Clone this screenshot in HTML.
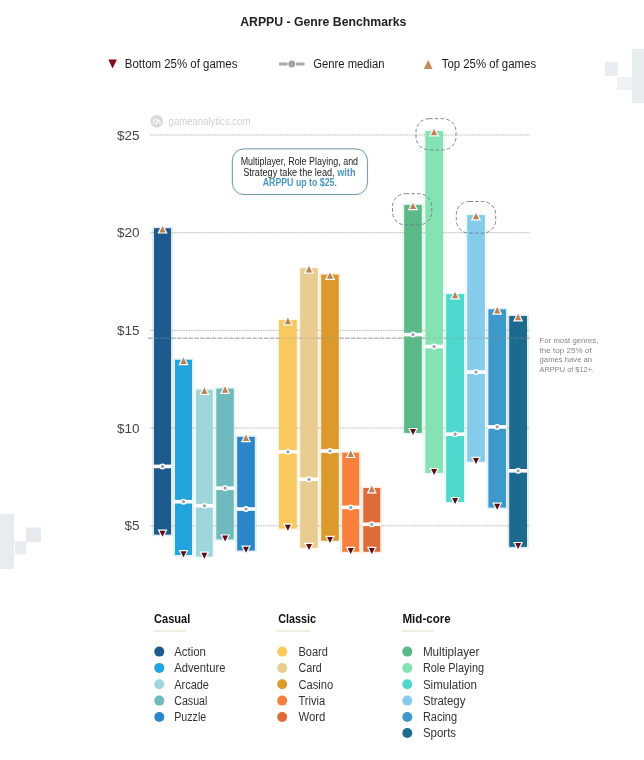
<!DOCTYPE html>
<html lang="en"><head><meta charset="utf-8"><title>ARPPU - Genre Benchmarks</title>
<style>
html,body{margin:0;padding:0;background:#fff;}
body{width:644px;height:760px;overflow:hidden;font-family:"Liberation Sans",sans-serif;}
svg{display:block;}
text{font-family:"Liberation Sans",sans-serif;}
</style></head><body>
<svg width="644" height="760" viewBox="0 0 644 760">
<rect width="644" height="760" fill="#ffffff"/>

<g fill="#e7ecee">
<rect x="632" y="49" width="12" height="54"/>
<rect x="617" y="77" width="15" height="13" fill="#eef2f3"/>
<rect x="605" y="62" width="13" height="14" fill="#e9edf0"/>
<rect x="0" y="514" width="14" height="55"/>
<rect x="15" y="541" width="11.5" height="13.5" fill="#e9edf0"/>
<rect x="26" y="527.5" width="15" height="14.5" fill="#e6eaee"/>
</g>
<text x="240.2" y="26.1" font-size="13.5" font-weight="bold" fill="#222" textLength="166.2" lengthAdjust="spacingAndGlyphs">ARPPU - Genre Benchmarks</text>
<polygon points="108.3,59.6 116.9,59.6 112.6,68.6" fill="#7d0d17"/>
<text x="124.8" y="68.1" font-size="12" fill="#1c1c1c" textLength="112.6" lengthAdjust="spacingAndGlyphs">Bottom 25% of games</text>
<g><rect x="279" y="62.5" width="8.6" height="3" rx="0.8" fill="#a9a9a9"/><rect x="296" y="62.5" width="8.6" height="3" rx="0.8" fill="#a9a9a9"/><circle cx="291.8" cy="64" r="3.5" fill="#a4a4a4"/></g>
<text x="313.2" y="68.1" font-size="12" fill="#1c1c1c" textLength="71.4" lengthAdjust="spacingAndGlyphs">Genre median</text>
<polygon points="423.8,69 432.6,69 428.2,60" fill="#c98a5c"/>
<text x="441.7" y="68.1" font-size="12" fill="#1c1c1c" textLength="94.4" lengthAdjust="spacingAndGlyphs">Top 25% of games</text>
<circle cx="156.7" cy="121.3" r="6.3" fill="#dadada"/>
<path d="M156.6 123.4 a2.1 2.1 0 1 1 0.1 -3.6 M156.4 123.6 l1.9 -4 l1.9 4" fill="none" stroke="#fff" stroke-width="1.1" stroke-linecap="round" stroke-linejoin="round"/>
<text x="168.6" y="124.7" font-size="10.5" fill="#d0d0d0" textLength="81.8" lengthAdjust="spacingAndGlyphs">gameanalytics.com</text>
<line x1="150" x2="530" y1="135.0" y2="135.0" stroke="#a2a2a2" stroke-width="0.75" stroke-dasharray="1.5 0.9"/>
<text x="139.6" y="139.5" font-size="13.5" fill="#444" text-anchor="end">$25</text>
<line x1="150" x2="530" y1="232.7" y2="232.7" stroke="#a2a2a2" stroke-width="0.75" stroke-dasharray="1.5 0.9"/>
<text x="139.6" y="237.2" font-size="13.5" fill="#444" text-anchor="end">$20</text>
<line x1="150" x2="530" y1="330.4" y2="330.4" stroke="#a2a2a2" stroke-width="0.75" stroke-dasharray="1.5 0.9"/>
<text x="139.6" y="334.9" font-size="13.5" fill="#444" text-anchor="end">$15</text>
<line x1="150" x2="530" y1="428.1" y2="428.1" stroke="#a2a2a2" stroke-width="0.75" stroke-dasharray="1.5 0.9"/>
<text x="139.6" y="432.6" font-size="13.5" fill="#444" text-anchor="end">$10</text>
<line x1="150" x2="530" y1="525.8" y2="525.8" stroke="#a2a2a2" stroke-width="0.75" stroke-dasharray="1.5 0.9"/>
<text x="139.6" y="530.3" font-size="13.5" fill="#444" text-anchor="end">$5</text>
<line x1="148" x2="531" y1="338.2" y2="338.2" stroke="#9a9a9a" stroke-width="0.75" stroke-dasharray="4.5 1.3"/>
<rect x="152.0" y="226.7" width="21.0" height="309.4" fill="#1d5b8f" opacity="0.13"/>
<rect x="173.0" y="358.3" width="21.0" height="198.2" fill="#22a5dc" opacity="0.13"/>
<rect x="194.0" y="388.2" width="20.8" height="169.9" fill="#9fd6dc" opacity="0.13"/>
<rect x="214.3" y="387.1" width="21.5" height="153.8" fill="#6fbabd" opacity="0.13"/>
<rect x="235.2" y="435.4" width="21.6" height="116.6" fill="#2a86c9" opacity="0.13"/>
<rect x="277.0" y="318.5" width="21.8" height="211.6" fill="#f8c95f" opacity="0.13"/>
<rect x="298.2" y="266.7" width="21.6" height="282.6" fill="#e9cd90" opacity="0.13"/>
<rect x="319.2" y="273.1" width="21.6" height="269.1" fill="#db9a2c" opacity="0.13"/>
<rect x="340.2" y="451.2" width="21.0" height="102.1" fill="#f7803c" opacity="0.13"/>
<rect x="361.3" y="486.5" width="20.9" height="66.8" fill="#de6b3a" opacity="0.13"/>
<rect x="402.2" y="203.4" width="21.6" height="231.0" fill="#5bb887" opacity="0.13"/>
<rect x="423.3" y="129.6" width="21.7" height="344.8" fill="#85e3b3" opacity="0.13"/>
<rect x="444.2" y="292.6" width="21.8" height="210.8" fill="#4dd7cd" opacity="0.13"/>
<rect x="465.2" y="213.6" width="21.7" height="249.6" fill="#85cbea" opacity="0.13"/>
<rect x="486.4" y="307.8" width="21.6" height="201.3" fill="#3f98ca" opacity="0.13"/>
<rect x="507.2" y="314.5" width="21.8" height="233.9" fill="#1c6a8d" opacity="0.13"/>
<rect x="154.0" y="228.2" width="17.0" height="306.4" fill="#1d5b8f"/>
<rect x="175.0" y="359.8" width="17.0" height="195.2" fill="#22a5dc"/>
<rect x="196.0" y="389.7" width="16.8" height="166.9" fill="#9fd6dc"/>
<rect x="216.3" y="388.6" width="17.5" height="150.8" fill="#6fbabd"/>
<rect x="237.2" y="436.9" width="17.6" height="113.6" fill="#2a86c9"/>
<rect x="279.0" y="320.0" width="17.8" height="208.6" fill="#f8c95f"/>
<rect x="300.2" y="268.2" width="17.6" height="279.6" fill="#e9cd90"/>
<rect x="321.2" y="274.6" width="17.6" height="266.1" fill="#db9a2c"/>
<rect x="342.2" y="452.7" width="17.0" height="99.1" fill="#f7803c"/>
<rect x="363.3" y="488.0" width="16.9" height="63.8" fill="#de6b3a"/>
<rect x="404.2" y="204.9" width="17.6" height="228.0" fill="#5bb887"/>
<rect x="425.3" y="131.1" width="17.7" height="341.8" fill="#85e3b3"/>
<rect x="446.2" y="294.1" width="17.8" height="207.8" fill="#4dd7cd"/>
<rect x="467.2" y="215.1" width="17.7" height="246.6" fill="#85cbea"/>
<rect x="488.4" y="309.3" width="17.6" height="198.3" fill="#3f98ca"/>
<rect x="509.2" y="316.0" width="17.8" height="230.9" fill="#1c6a8d"/>
<line x1="148" x2="531" y1="338.2" y2="338.2" stroke="#9a9a9a" stroke-opacity="0.6" stroke-width="0.75" stroke-dasharray="4.5 1.3"/>
<rect x="153.2" y="464.6" width="18.6" height="3.6" fill="#fff"/>
<circle cx="162.5" cy="466.4" r="2.3" fill="#8fa3ad" stroke="#fff" stroke-width="1.4"/>
<polygon points="159.3,232.4 165.7,232.4 162.5,226.0" fill="#c0804f" stroke="#fff" stroke-width="2.4" stroke-linejoin="miter" paint-order="stroke"/>
<polygon points="159.5,530.8 165.5,530.8 162.5,536.8" fill="#5e0a12" stroke="#fff" stroke-width="2.4" stroke-linejoin="miter" paint-order="stroke"/>
<rect x="174.2" y="499.9" width="18.6" height="3.6" fill="#fff"/>
<circle cx="183.5" cy="501.7" r="2.3" fill="#8fa3ad" stroke="#fff" stroke-width="1.4"/>
<polygon points="180.3,364.0 186.7,364.0 183.5,357.6" fill="#c0804f" stroke="#fff" stroke-width="2.4" stroke-linejoin="miter" paint-order="stroke"/>
<polygon points="180.5,551.2 186.5,551.2 183.5,557.2" fill="#5e0a12" stroke="#fff" stroke-width="2.4" stroke-linejoin="miter" paint-order="stroke"/>
<rect x="195.2" y="504.0" width="18.4" height="3.6" fill="#fff"/>
<circle cx="204.4" cy="505.8" r="2.3" fill="#8fa3ad" stroke="#fff" stroke-width="1.4"/>
<polygon points="201.2,393.9 207.6,393.9 204.4,387.5" fill="#c0804f" stroke="#fff" stroke-width="2.4" stroke-linejoin="miter" paint-order="stroke"/>
<polygon points="201.4,552.8 207.4,552.8 204.4,558.8" fill="#5e0a12" stroke="#fff" stroke-width="2.4" stroke-linejoin="miter" paint-order="stroke"/>
<rect x="215.5" y="486.4" width="19.1" height="3.6" fill="#fff"/>
<circle cx="225.1" cy="488.2" r="2.3" fill="#8fa3ad" stroke="#fff" stroke-width="1.4"/>
<polygon points="221.9,392.8 228.2,392.8 225.1,386.4" fill="#c0804f" stroke="#fff" stroke-width="2.4" stroke-linejoin="miter" paint-order="stroke"/>
<polygon points="222.1,535.6 228.1,535.6 225.1,541.6" fill="#5e0a12" stroke="#fff" stroke-width="2.4" stroke-linejoin="miter" paint-order="stroke"/>
<rect x="236.4" y="507.2" width="19.2" height="3.6" fill="#fff"/>
<circle cx="246.0" cy="509.0" r="2.3" fill="#8fa3ad" stroke="#fff" stroke-width="1.4"/>
<polygon points="242.8,441.1 249.2,441.1 246.0,434.7" fill="#c0804f" stroke="#fff" stroke-width="2.4" stroke-linejoin="miter" paint-order="stroke"/>
<polygon points="243.0,546.7 249.0,546.7 246.0,552.7" fill="#5e0a12" stroke="#fff" stroke-width="2.4" stroke-linejoin="miter" paint-order="stroke"/>
<rect x="278.2" y="450.0" width="19.4" height="3.6" fill="#fff"/>
<circle cx="287.9" cy="451.8" r="2.3" fill="#8fa3ad" stroke="#fff" stroke-width="1.4"/>
<polygon points="284.7,324.2 291.1,324.2 287.9,317.8" fill="#c0804f" stroke="#fff" stroke-width="2.4" stroke-linejoin="miter" paint-order="stroke"/>
<polygon points="284.9,524.8 290.9,524.8 287.9,530.8" fill="#5e0a12" stroke="#fff" stroke-width="2.4" stroke-linejoin="miter" paint-order="stroke"/>
<rect x="299.4" y="477.5" width="19.2" height="3.6" fill="#fff"/>
<circle cx="309.0" cy="479.3" r="2.3" fill="#8fa3ad" stroke="#fff" stroke-width="1.4"/>
<polygon points="305.8,272.4 312.2,272.4 309.0,266.0" fill="#c0804f" stroke="#fff" stroke-width="2.4" stroke-linejoin="miter" paint-order="stroke"/>
<polygon points="306.0,544.0 312.0,544.0 309.0,550.0" fill="#5e0a12" stroke="#fff" stroke-width="2.4" stroke-linejoin="miter" paint-order="stroke"/>
<rect x="320.4" y="449.2" width="19.2" height="3.6" fill="#fff"/>
<circle cx="330.0" cy="451.0" r="2.3" fill="#8fa3ad" stroke="#fff" stroke-width="1.4"/>
<polygon points="326.8,278.8 333.2,278.8 330.0,272.4" fill="#c0804f" stroke="#fff" stroke-width="2.4" stroke-linejoin="miter" paint-order="stroke"/>
<polygon points="327.0,536.9 333.0,536.9 330.0,542.9" fill="#5e0a12" stroke="#fff" stroke-width="2.4" stroke-linejoin="miter" paint-order="stroke"/>
<rect x="341.4" y="505.6" width="18.6" height="3.6" fill="#fff"/>
<circle cx="350.7" cy="507.4" r="2.3" fill="#8fa3ad" stroke="#fff" stroke-width="1.4"/>
<polygon points="347.5,456.9 353.9,456.9 350.7,450.5" fill="#c0804f" stroke="#fff" stroke-width="2.4" stroke-linejoin="miter" paint-order="stroke"/>
<polygon points="347.7,548.0 353.7,548.0 350.7,554.0" fill="#5e0a12" stroke="#fff" stroke-width="2.4" stroke-linejoin="miter" paint-order="stroke"/>
<rect x="362.5" y="522.5" width="18.5" height="3.6" fill="#fff"/>
<circle cx="371.8" cy="524.3" r="2.3" fill="#8fa3ad" stroke="#fff" stroke-width="1.4"/>
<polygon points="368.6,492.2 374.9,492.2 371.8,485.8" fill="#c0804f" stroke="#fff" stroke-width="2.4" stroke-linejoin="miter" paint-order="stroke"/>
<polygon points="368.8,548.0 374.8,548.0 371.8,554.0" fill="#5e0a12" stroke="#fff" stroke-width="2.4" stroke-linejoin="miter" paint-order="stroke"/>
<rect x="403.4" y="332.8" width="19.2" height="3.6" fill="#fff"/>
<circle cx="413.0" cy="334.6" r="2.3" fill="#8fa3ad" stroke="#fff" stroke-width="1.4"/>
<polygon points="409.8,209.1 416.2,209.1 413.0,202.7" fill="#c0804f" stroke="#fff" stroke-width="2.4" stroke-linejoin="miter" paint-order="stroke"/>
<polygon points="410.0,429.1 416.0,429.1 413.0,435.1" fill="#5e0a12" stroke="#fff" stroke-width="2.4" stroke-linejoin="miter" paint-order="stroke"/>
<rect x="424.5" y="344.7" width="19.3" height="3.6" fill="#fff"/>
<circle cx="434.1" cy="346.5" r="2.3" fill="#8fa3ad" stroke="#fff" stroke-width="1.4"/>
<polygon points="430.9,135.3 437.3,135.3 434.1,128.9" fill="#c0804f" stroke="#fff" stroke-width="2.4" stroke-linejoin="miter" paint-order="stroke"/>
<polygon points="431.1,469.1 437.1,469.1 434.1,475.1" fill="#5e0a12" stroke="#fff" stroke-width="2.4" stroke-linejoin="miter" paint-order="stroke"/>
<rect x="445.4" y="432.4" width="19.4" height="3.6" fill="#fff"/>
<circle cx="455.1" cy="434.2" r="2.3" fill="#8fa3ad" stroke="#fff" stroke-width="1.4"/>
<polygon points="451.9,298.3 458.3,298.3 455.1,291.9" fill="#c0804f" stroke="#fff" stroke-width="2.4" stroke-linejoin="miter" paint-order="stroke"/>
<polygon points="452.1,498.1 458.1,498.1 455.1,504.1" fill="#5e0a12" stroke="#fff" stroke-width="2.4" stroke-linejoin="miter" paint-order="stroke"/>
<rect x="466.4" y="370.3" width="19.3" height="3.6" fill="#fff"/>
<circle cx="476.0" cy="372.1" r="2.3" fill="#8fa3ad" stroke="#fff" stroke-width="1.4"/>
<polygon points="472.8,219.3 479.2,219.3 476.0,212.9" fill="#c0804f" stroke="#fff" stroke-width="2.4" stroke-linejoin="miter" paint-order="stroke"/>
<polygon points="473.0,457.9 479.0,457.9 476.0,463.9" fill="#5e0a12" stroke="#fff" stroke-width="2.4" stroke-linejoin="miter" paint-order="stroke"/>
<rect x="487.6" y="425.1" width="19.2" height="3.6" fill="#fff"/>
<circle cx="497.2" cy="426.9" r="2.3" fill="#8fa3ad" stroke="#fff" stroke-width="1.4"/>
<polygon points="494.0,313.5 500.4,313.5 497.2,307.1" fill="#c0804f" stroke="#fff" stroke-width="2.4" stroke-linejoin="miter" paint-order="stroke"/>
<polygon points="494.2,503.8 500.2,503.8 497.2,509.8" fill="#5e0a12" stroke="#fff" stroke-width="2.4" stroke-linejoin="miter" paint-order="stroke"/>
<rect x="508.4" y="469.0" width="19.4" height="3.6" fill="#fff"/>
<circle cx="518.1" cy="470.8" r="2.3" fill="#8fa3ad" stroke="#fff" stroke-width="1.4"/>
<polygon points="514.9,320.2 521.3,320.2 518.1,313.8" fill="#c0804f" stroke="#fff" stroke-width="2.4" stroke-linejoin="miter" paint-order="stroke"/>
<polygon points="515.1,543.1 521.1,543.1 518.1,549.1" fill="#5e0a12" stroke="#fff" stroke-width="2.4" stroke-linejoin="miter" paint-order="stroke"/>
<rect x="416" y="118.7" width="40" height="31.2" rx="13" ry="13" fill="none" stroke="#66808b" stroke-width="0.9" stroke-dasharray="3.6 2.2"/>
<rect x="392.5" y="193.7" width="39.3" height="31.2" rx="13" ry="13" fill="none" stroke="#66808b" stroke-width="0.9" stroke-dasharray="3.6 2.2"/>
<rect x="456.3" y="201.5" width="39.4" height="31.6" rx="13" ry="13" fill="none" stroke="#66808b" stroke-width="0.9" stroke-dasharray="3.6 2.2"/>
<rect x="231" y="147.6" width="137.6" height="48" rx="12.5" ry="12.5" fill="#eef6fa" opacity="0.8"/>
<rect x="232.4" y="148.9" width="135" height="45.6" rx="11.5" ry="11.5" fill="#fff" stroke="#7398ac" stroke-width="1"/>
<text x="240.7" y="164.6" font-size="10" fill="#222" textLength="117.4" lengthAdjust="spacingAndGlyphs">Multiplayer, Role Playing, and</text>
<text x="243.2" y="175.7" font-size="10" fill="#222" textLength="112.3" lengthAdjust="spacingAndGlyphs">Strategy take the lead, <tspan font-weight="bold" fill="#4b98bf">with</tspan></text>
<text x="262.7" y="186.3" font-size="10" fill="#222" textLength="74.2" lengthAdjust="spacingAndGlyphs"><tspan font-weight="bold" fill="#4b98bf">ARPPU up to $25</tspan>.</text>
<text x="539.6" y="343.0" font-size="8" fill="#858585" textLength="58.7" lengthAdjust="spacingAndGlyphs">For most genres,</text>
<text x="539.6" y="352.7" font-size="8" fill="#858585" textLength="52.0" lengthAdjust="spacingAndGlyphs">the top 25% of</text>
<text x="539.6" y="362.4" font-size="8" fill="#858585" textLength="52.5" lengthAdjust="spacingAndGlyphs">games have an</text>
<text x="539.6" y="372.1" font-size="8" fill="#858585" textLength="54.5" lengthAdjust="spacingAndGlyphs">ARPPU of $12+.</text>
<text x="154" y="623.3" font-size="12" font-weight="bold" fill="#111" textLength="36.3" lengthAdjust="spacingAndGlyphs">Casual</text>
<rect x="153" y="630.5" width="32.7" height="1" fill="#e6dcc4"/>
<circle cx="159.3" cy="651.6" r="5" fill="#1d5b8f"/>
<text x="174.2" y="655.9" font-size="12" fill="#333" textLength="31.7" lengthAdjust="spacingAndGlyphs">Action</text>
<circle cx="159.3" cy="667.9" r="5" fill="#22a5dc"/>
<text x="174.2" y="672.2" font-size="12" fill="#333" textLength="51.2" lengthAdjust="spacingAndGlyphs">Adventure</text>
<circle cx="159.3" cy="684.2" r="5" fill="#9fd6dc"/>
<text x="174.2" y="688.5" font-size="12" fill="#333" textLength="34.8" lengthAdjust="spacingAndGlyphs">Arcade</text>
<circle cx="159.3" cy="700.6" r="5" fill="#6fbabd"/>
<text x="174.2" y="704.9" font-size="12" fill="#333" textLength="33.2" lengthAdjust="spacingAndGlyphs">Casual</text>
<circle cx="159.3" cy="717.0" r="5" fill="#2a86c9"/>
<text x="174.2" y="721.3" font-size="12" fill="#333" textLength="32" lengthAdjust="spacingAndGlyphs">Puzzle</text>
<text x="278.2" y="623.3" font-size="12" font-weight="bold" fill="#111" textLength="37.9" lengthAdjust="spacingAndGlyphs">Classic</text>
<rect x="276.6" y="630.5" width="33.3" height="1" fill="#e6dcc4"/>
<circle cx="282.2" cy="651.6" r="5" fill="#f8c95f"/>
<text x="298.4" y="655.9" font-size="12" fill="#333" textLength="29.5" lengthAdjust="spacingAndGlyphs">Board</text>
<circle cx="282.2" cy="667.9" r="5" fill="#e9cd90"/>
<text x="298.4" y="672.2" font-size="12" fill="#333" textLength="23.3" lengthAdjust="spacingAndGlyphs">Card</text>
<circle cx="282.2" cy="684.2" r="5" fill="#db9a2c"/>
<text x="298.4" y="688.5" font-size="12" fill="#333" textLength="34.8" lengthAdjust="spacingAndGlyphs">Casino</text>
<circle cx="282.2" cy="700.6" r="5" fill="#f7803c"/>
<text x="298.4" y="704.9" font-size="12" fill="#333" textLength="26.7" lengthAdjust="spacingAndGlyphs">Trivia</text>
<circle cx="282.2" cy="717.0" r="5" fill="#de6b3a"/>
<text x="298.4" y="721.3" font-size="12" fill="#333" textLength="27" lengthAdjust="spacingAndGlyphs">Word</text>
<text x="402.4" y="623.3" font-size="12" font-weight="bold" fill="#111" textLength="48.4" lengthAdjust="spacingAndGlyphs">Mid-core</text>
<rect x="401.1" y="630.5" width="32.3" height="1" fill="#e6dcc4"/>
<circle cx="407.3" cy="651.6" r="5" fill="#5bb887"/>
<text x="422.9" y="655.9" font-size="12" fill="#333" textLength="56.5" lengthAdjust="spacingAndGlyphs">Multiplayer</text>
<circle cx="407.3" cy="667.9" r="5" fill="#85e3b3"/>
<text x="422.9" y="672.2" font-size="12" fill="#333" textLength="61.2" lengthAdjust="spacingAndGlyphs">Role Playing</text>
<circle cx="407.3" cy="684.2" r="5" fill="#4dd7cd"/>
<text x="422.9" y="688.5" font-size="12" fill="#333" textLength="54" lengthAdjust="spacingAndGlyphs">Simulation</text>
<circle cx="407.3" cy="700.6" r="5" fill="#85cbea"/>
<text x="422.9" y="704.9" font-size="12" fill="#333" textLength="42.5" lengthAdjust="spacingAndGlyphs">Strategy</text>
<circle cx="407.3" cy="717.0" r="5" fill="#3f98ca"/>
<text x="422.9" y="721.3" font-size="12" fill="#333" textLength="34.2" lengthAdjust="spacingAndGlyphs">Racing</text>
<circle cx="407.3" cy="733.0" r="5" fill="#1c6a8d"/>
<text x="422.9" y="737.3" font-size="12" fill="#333" textLength="33.2" lengthAdjust="spacingAndGlyphs">Sports</text>
</svg></body></html>
